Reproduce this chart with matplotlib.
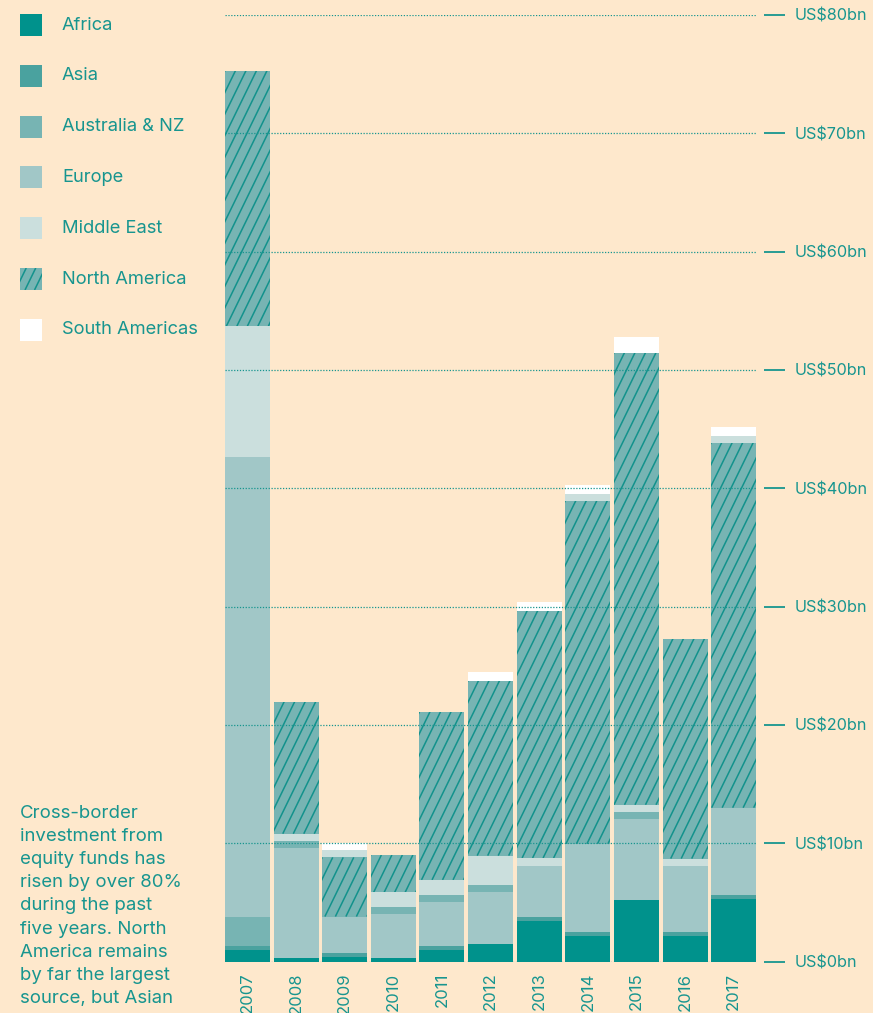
import numpy as np
import matplotlib.pyplot as plt
from matplotlib.patches import Rectangle
from matplotlib.collections import LineCollection

plt.rcParams['font.family'] = ['Inter', 'DejaVu Sans']

# Data (US$bn)
years = ['2007', '2008', '2009', '2010', '2011', '2012', '2013', '2014', '2015', '2016', '2017']
africa = [1.0, 0.3, 0.4, 0.3, 1.0, 1.5, 3.4, 2.15, 5.2, 2.15, 5.3]
asia = [0.35, 0.0, 0.35, 0.0, 0.35, 0.0, 0.35, 0.35, 0.0, 0.35, 0.35]
australia_nz = [2.45, 0.6, 0.0, 0.6, 0.6, 0.6, 0.0, 0.0, 0.6, 0.0, 0.0]
europe = [38.8, 9.3, 3.05, 3.7, 3.7, 4.4, 4.3, 7.45, 6.85, 5.6, 7.35]
middle_east = [11.1, 0.6, 0.6, 1.25, 1.25, 2.45, 0.7, 0.6, 0.6, 0.6, 0.6]
north_america = [21.6, 11.15, 5.0, 3.15, 14.2, 14.8, 20.9, 29.0, 38.2, 18.6, 30.85]
south_americas = [0.0, 0.0, 0.6, 0.0, 0.0, 0.7, 0.7, 0.7, 1.3, 0.0, 0.7]

y_ticks = [0, 10, 20, 30, 40, 50, 60, 70, 80]
y_tick_labels = ['US$%dbn' % v for v in y_ticks]

body = ("Cross-border\ninvestment from\nequity funds has\nrisen by over 80%\nduring the past\n"
        "five years. North\nAmerica remains\nby far the largest\nsource, but Asian")

series = {
    'Africa': africa,
    'Asia': asia,
    'Australia & NZ': australia_nz,
    'Europe': europe,
    'Middle East': middle_east,
    'North America': north_america,
    'South Americas': south_americas,
}
legend_order = list(series.keys())

colors = {
    'Africa': '#00928c',
    'Asia': '#4aa29f',
    'Australia & NZ': '#77b4b3',
    'Europe': '#a1c7c7',
    'Middle East': '#cbdfdd',
    'North America': '#77b4b3',
    'South Americas': '#ffffff',
}
BG = '#fee8cc'
TEAL = '#17958f'
STRIPE = '#13928c'

# the original does not stack in the same order every year
order_default = ['Africa', 'Asia', 'Europe', 'Australia & NZ', 'Middle East', 'North America', 'South Americas']
order_aus_low = ['Africa', 'Asia', 'Australia & NZ', 'Europe', 'Middle East', 'North America', 'South Americas']
order_me_high = ['Africa', 'Asia', 'Europe', 'Australia & NZ', 'North America', 'Middle East', 'South Americas']
stack_order = [order_aus_low, order_default, order_me_high, order_default, order_default, order_default,
               order_default, order_me_high, order_default, order_default, order_me_high]

W, H = 873, 1013
fig = plt.figure(figsize=(W / 100, H / 100), dpi=100, facecolor=BG)

# overlay in pixel units for legend and side text
bg = fig.add_axes([0, 0, 1, 1], zorder=0)
bg.set_xlim(0, W)
bg.set_ylim(H, 0)
bg.axis('off')
bg.patch.set_alpha(0)

ax = fig.add_axes([225 / W, (H - 961.5) / H, 532 / W, 946.5 / H], zorder=1)
ax.patch.set_alpha(0)
bar_w = 0.926
ax.set_xlim(-bar_w / 2, 10.48)
ax.set_ylim(0, 80)


def add_stripes(axis, patch, x0, y0, w, h, angle=64, gap_px=10.5):
    # steep diagonal stripes clipped to the bar
    p0 = axis.transData.transform((0, 0))
    sx = axis.transData.transform((1, 0))[0] - p0[0]
    sy = axis.transData.transform((0, 1))[1] - p0[1]
    run = h * sy / np.tan(np.radians(angle)) / sx
    step = gap_px / sx
    starts = np.arange(x0 - run - step, x0 + w + step, step)
    segs = [[(s, y0), (s + run, y0 + h)] for s in starts]
    lc = LineCollection(segs, colors=STRIPE, linewidths=1.1, zorder=1.5)
    axis.add_collection(lc)
    lc.set_clip_path(patch)


x = np.arange(len(years))
for i in range(len(years)):
    bottom = 0.0
    for name in stack_order[i]:
        v = series[name][i]
        if v <= 0:
            continue
        bar = ax.bar(x[i], v, bar_w, bottom=bottom, color=colors[name], linewidth=0, zorder=1)[0]
        if name == 'North America':
            add_stripes(ax, bar, x[i] - bar_w / 2, bottom, bar_w, v)
        bottom += v

ax.set_yticks(y_ticks)
ax.set_yticklabels(y_tick_labels)
ax.yaxis.tick_right()
ax.tick_params(axis='y', length=0, pad=27, labelsize=11.7, labelcolor=TEAL)
ax.grid(axis='y', color=TEAL, linestyle=(0, (1, 1.3)), linewidth=0.9)
ax.set_axisbelow(False)
for v in y_ticks:
    ax.plot([1.013, 1.0535], [v, v], transform=ax.get_yaxis_transform(), color=TEAL,
            linewidth=1.3, clip_on=False, solid_capstyle='butt')

ax.set_xticks(x)
ax.set_xticklabels(years, rotation=90, va='top', ha='center')
ax.tick_params(axis='x', length=0, pad=8, labelsize=12, labelcolor=TEAL)
for s in ax.spines.values():
    s.set_visible(False)

# legend
leg_y0, leg_step = 25, 50.8
for k, name in enumerate(legend_order):
    yc = leg_y0 + k * leg_step
    sw = Rectangle((20, yc - 11), 22, 22, facecolor=colors[name], linewidth=0)
    bg.add_patch(sw)
    if name == 'North America':
        lines = []
        for s in np.arange(20 - 14, 42 + 5, 9.5):
            lines.append([(s, yc + 11), (s + 22 / np.tan(np.radians(64)), yc - 11)])
        lc = LineCollection(lines, colors=STRIPE, linewidths=1.1)
        bg.add_collection(lc)
        lc.set_clip_path(sw)
    bg.text(62, yc, name, fontsize=13.2, color=TEAL, va='center', ha='left')

bg.text(20, 805, body, fontsize=13.4, color=TEAL, va='top', ha='left', linespacing=1.47)

fig.savefig('out.png', dpi=100, facecolor=BG)
